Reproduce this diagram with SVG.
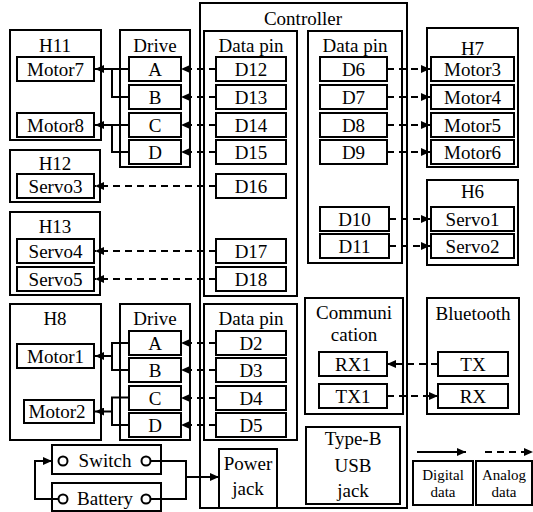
<svg xmlns="http://www.w3.org/2000/svg" width="533" height="512" viewBox="0 0 533 512">
  <style>
    .box { fill: none; stroke: #000; stroke-width: 2; }
    .cell { fill: #fff; stroke: #000; stroke-width: 2; }
    .t { font-family: "Liberation Serif", "Times New Roman", serif; font-size: 19px; text-anchor: middle; fill: #000; }
    .s { font-family: "Liberation Serif", "Times New Roman", serif; font-size: 15px; text-anchor: middle; fill: #000; }
    .wire { fill: none; stroke: #000; stroke-width: 2; }
    .dash { fill: none; stroke: #000; stroke-width: 2; stroke-dasharray: 7 5; }
    .pin { fill: #fff; stroke: #000; stroke-width: 2; }
  </style>
  <defs>
    <marker id="arrow" markerUnits="userSpaceOnUse" markerWidth="9" markerHeight="8" refX="9" refY="4" orient="auto">
      <path d="M0,0 L9,4 L0,8 z" fill="#000"/>
    </marker>
  </defs>
  <rect width="533" height="512" fill="#fff"/>

  <!-- Controller board -->
  <g id="controller">
    <rect class="box" x="200" y="3" width="207" height="505"/>
    <text class="t" x="303" y="25">Controller</text>
  </g>

  <g id="datapin-left">
    <rect class="box" x="204" y="31" width="93" height="265"/>
    <text class="t" x="251" y="52">Data pin</text>
    <rect class="cell" x="216" y="57" width="70" height="24"/><text class="t" x="251" y="76">D12</text>
    <rect class="cell" x="216" y="85" width="70" height="24"/><text class="t" x="251" y="104">D13</text>
    <rect class="cell" x="216" y="113" width="70" height="24"/><text class="t" x="251" y="132">D14</text>
    <rect class="cell" x="216" y="140" width="70" height="24"/><text class="t" x="251" y="159">D15</text>
    <rect class="cell" x="216" y="174" width="70" height="24"/><text class="t" x="251" y="193">D16</text>
    <rect class="cell" x="216" y="239" width="70" height="24"/><text class="t" x="251" y="258">D17</text>
    <rect class="cell" x="216" y="267" width="70" height="24"/><text class="t" x="251" y="286">D18</text>
  </g>

  <g id="datapin-right">
    <rect class="box" x="308" y="31" width="94" height="232"/>
    <text class="t" x="355" y="52">Data pin</text>
    <rect class="cell" x="320" y="57" width="67" height="24"/><text class="t" x="353.5" y="76">D6</text>
    <rect class="cell" x="320" y="85" width="67" height="24"/><text class="t" x="353.5" y="104">D7</text>
    <rect class="cell" x="320" y="113" width="67" height="24"/><text class="t" x="353.5" y="132">D8</text>
    <rect class="cell" x="320" y="140" width="67" height="24"/><text class="t" x="353.5" y="159">D9</text>
    <rect class="cell" x="320" y="207" width="69" height="24"/><text class="t" x="354.5" y="226">D10</text>
    <rect class="cell" x="320" y="234" width="69" height="24"/><text class="t" x="354.5" y="253">D11</text>
  </g>

  <g id="datapin-lower">
    <rect class="box" x="204" y="304" width="93" height="136"/>
    <text class="t" x="251" y="325">Data pin</text>
    <rect class="cell" x="216" y="331" width="70" height="24"/><text class="t" x="251" y="350">D2</text>
    <rect class="cell" x="216" y="358" width="70" height="24"/><text class="t" x="251" y="377">D3</text>
    <rect class="cell" x="216" y="386" width="70" height="24"/><text class="t" x="251" y="405">D4</text>
    <rect class="cell" x="216" y="413" width="70" height="24"/><text class="t" x="251" y="432">D5</text>
  </g>

  <g id="communication">
    <rect class="box" x="305" y="298" width="98" height="116"/>
    <text class="t" x="354" y="319">Communi</text>
    <text class="t" x="354" y="341">cation</text>
    <rect class="cell" x="319" y="352" width="68" height="24"/><text class="t" x="353" y="371">RX1</text>
    <rect class="cell" x="319" y="384" width="68" height="24"/><text class="t" x="353" y="403">TX1</text>
  </g>

  <g id="usb-jack">
    <rect class="box" x="306" y="427" width="94" height="77"/>
    <text class="t" x="353" y="445">Type-B</text>
    <text class="t" x="353" y="472">USB</text>
    <text class="t" x="353" y="497">jack</text>
  </g>

  <g id="power-jack">
    <rect class="cell" x="219" y="449" width="58" height="59"/>
    <text class="t" x="248" y="470">Power</text>
    <text class="t" x="248" y="495">jack</text>
  </g>

  <!-- Headers and drivers, left side -->
  <g id="h11">
    <rect class="box" x="10" y="30" width="91" height="110"/>
    <text class="t" x="55" y="52">H11</text>
    <rect class="cell" x="17" y="57" width="77" height="24"/><text class="t" x="55.5" y="76">Motor7</text>
    <rect class="cell" x="17" y="113" width="77" height="24"/><text class="t" x="55.5" y="132">Motor8</text>
  </g>

  <g id="drive-top">
    <rect class="box" x="120" y="30" width="70" height="137"/>
    <text class="t" x="155" y="52">Drive</text>
    <rect class="cell" x="129" y="57" width="52" height="24"/><text class="t" x="155" y="76">A</text>
    <rect class="cell" x="129" y="85" width="52" height="24"/><text class="t" x="155" y="104">B</text>
    <rect class="cell" x="129" y="113" width="52" height="24"/><text class="t" x="155" y="132">C</text>
    <rect class="cell" x="129" y="140" width="52" height="24"/><text class="t" x="155" y="159">D</text>
  </g>

  <g id="h12">
    <rect class="box" x="10" y="150" width="90" height="52"/>
    <text class="t" x="55" y="170">H12</text>
    <rect class="cell" x="17" y="174" width="77" height="24"/><text class="t" x="55.5" y="193">Servo3</text>
  </g>

  <g id="h13">
    <rect class="box" x="10" y="212" width="90" height="83"/>
    <text class="t" x="55" y="233">H13</text>
    <rect class="cell" x="17" y="239" width="77" height="24"/><text class="t" x="55.5" y="258">Servo4</text>
    <rect class="cell" x="17" y="267" width="77" height="24"/><text class="t" x="55.5" y="286">Servo5</text>
  </g>

  <g id="h8">
    <rect class="box" x="10" y="304" width="91" height="136"/>
    <text class="t" x="55" y="325">H8</text>
    <rect class="cell" x="17" y="344" width="77" height="24"/><text class="t" x="55.5" y="363">Motor1</text>
    <rect class="cell" x="24" y="400" width="70" height="23"/><text class="t" x="57" y="418">Motor2</text>
  </g>

  <g id="drive-lower">
    <rect class="box" x="120" y="304" width="70" height="136"/>
    <text class="t" x="155" y="325">Drive</text>
    <rect class="cell" x="129" y="331" width="52" height="24"/><text class="t" x="155" y="350">A</text>
    <rect class="cell" x="129" y="358" width="52" height="24"/><text class="t" x="155" y="377">B</text>
    <rect class="cell" x="129" y="386" width="52" height="24"/><text class="t" x="155" y="405">C</text>
    <rect class="cell" x="129" y="413" width="52" height="24"/><text class="t" x="155" y="432">D</text>
  </g>

  <g id="switch">
    <rect class="cell" x="52" y="445" width="109" height="29"/>
    <circle class="pin" cx="63" cy="461" r="4.5"/>
    <circle class="pin" cx="146" cy="461" r="4.5"/>
    <text class="t" x="105" y="467">Switch</text>
  </g>

  <g id="battery">
    <rect class="cell" x="52" y="483" width="109" height="28"/>
    <circle class="pin" cx="63" cy="499" r="4.5"/>
    <circle class="pin" cx="146" cy="499" r="4.5"/>
    <text class="t" x="105" y="505">Battery</text>
  </g>

  <!-- Right side -->
  <g id="h7">
    <rect class="box" x="427" y="28" width="91" height="139"/>
    <text class="t" x="472.5" y="55">H7</text>
    <rect class="cell" x="431" y="57" width="83" height="24"/><text class="t" x="472.5" y="76">Motor3</text>
    <rect class="cell" x="431" y="85" width="83" height="24"/><text class="t" x="472.5" y="104">Motor4</text>
    <rect class="cell" x="431" y="113" width="83" height="24"/><text class="t" x="472.5" y="132">Motor5</text>
    <rect class="cell" x="431" y="140" width="83" height="24"/><text class="t" x="472.5" y="159">Motor6</text>
  </g>

  <g id="h6">
    <rect class="box" x="427" y="180" width="91" height="85"/>
    <text class="t" x="472.5" y="198">H6</text>
    <rect class="cell" x="431" y="207" width="83" height="24"/><text class="t" x="472.5" y="226">Servo1</text>
    <rect class="cell" x="431" y="234" width="83" height="24"/><text class="t" x="472.5" y="253">Servo2</text>
  </g>

  <g id="bluetooth">
    <rect class="box" x="427" y="298" width="92" height="116"/>
    <text class="t" x="473" y="320">Bluetooth</text>
    <rect class="cell" x="438" y="352" width="70" height="24"/><text class="t" x="473" y="371">TX</text>
    <rect class="cell" x="438" y="384" width="70" height="24"/><text class="t" x="473" y="403">RX</text>
  </g>

  <!-- Legend -->
  <g id="legend-digital">
    <rect class="cell" x="413" y="461" width="60" height="44"/>
    <text class="s" x="443" y="480">Digital</text>
    <text class="s" x="443" y="497">data</text>
  </g>
  <g id="legend-analog">
    <rect class="cell" x="476" y="461" width="56" height="44"/>
    <text class="s" x="504" y="480">Analog</text>
    <text class="s" x="504" y="497">data</text>
  </g>

  <g id="connectors">
    <!-- drive outputs to motors (digital) -->
    <path class="wire" d="M129,69 H95" marker-end="url(#arrow)"/>
    <path class="wire" d="M129,97 H112 V69"/>
    <path class="wire" d="M129,125 H95" marker-end="url(#arrow)"/>
    <path class="wire" d="M129,152 H112 V125"/>
    <path class="wire" d="M129,343 H112 V370 H129"/>
    <path class="wire" d="M112,356 H95" marker-end="url(#arrow)"/>
    <path class="wire" d="M129,397.5 H112 V425 H129"/>
    <path class="wire" d="M112,411.5 H95" marker-end="url(#arrow)"/>

    <!-- data pins to drivers (analog) -->
    <path class="dash" d="M216,69 H181" marker-end="url(#arrow)"/>
    <path class="dash" d="M216,97 H181" marker-end="url(#arrow)"/>
    <path class="dash" d="M216,125 H181" marker-end="url(#arrow)"/>
    <path class="dash" d="M216,152 H181" marker-end="url(#arrow)"/>
    <path class="dash" d="M216,343 H181" marker-end="url(#arrow)"/>
    <path class="dash" d="M216,370 H181" marker-end="url(#arrow)"/>
    <path class="dash" d="M216,398 H181" marker-end="url(#arrow)"/>
    <path class="dash" d="M216,425 H181" marker-end="url(#arrow)"/>

    <!-- data pins to servos -->
    <path class="dash" d="M216,186 H95" marker-end="url(#arrow)"/>
    <path class="dash" d="M216,251 H95" marker-end="url(#arrow)"/>
    <path class="dash" d="M216,279 H95" marker-end="url(#arrow)"/>

    <!-- right side data pins -->
    <path class="dash" d="M387,69 H430" marker-end="url(#arrow)"/>
    <path class="dash" d="M387,97 H430" marker-end="url(#arrow)"/>
    <path class="dash" d="M387,125 H430" marker-end="url(#arrow)"/>
    <path class="dash" d="M387,152 H430" marker-end="url(#arrow)"/>
    <path class="dash" d="M389,219 H430" marker-end="url(#arrow)"/>
    <path class="dash" d="M389,246 H430" marker-end="url(#arrow)"/>

    <!-- serial link -->
    <path class="dash" d="M438,364 H387" marker-end="url(#arrow)"/>
    <path class="dash" d="M387,396 H438" marker-end="url(#arrow)"/>

    <!-- power loop -->
    <path class="wire" d="M150.5,461 H186 V499 H150.5"/>
    <path class="wire" d="M186,477 H219" marker-end="url(#arrow)"/>
    <path class="wire" d="M58.5,499 H35 V461 H52" marker-end="url(#arrow)"/>

    <!-- legend arrows -->
    <path class="wire" d="M417,452 H466" marker-end="url(#arrow)"/>
    <path class="dash" d="M485,452 H533" marker-end="url(#arrow)"/>
  </g>
</svg>
